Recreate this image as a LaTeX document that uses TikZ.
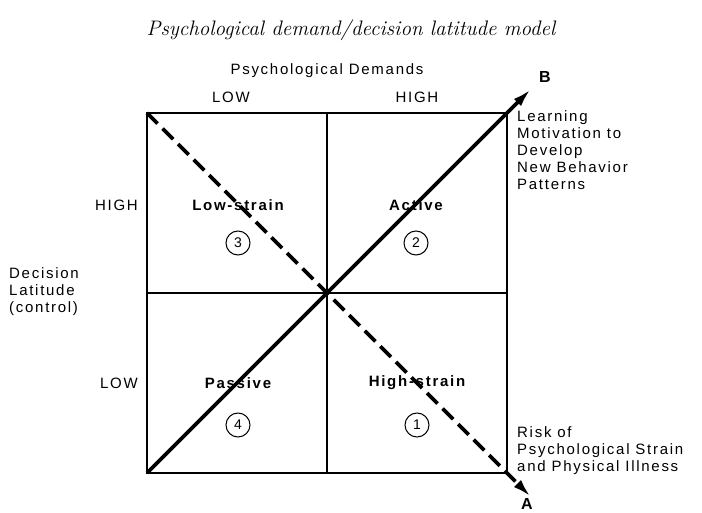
\documentclass[tikz,border=0pt]{standalone}
\usepackage{fontspec}
\usepackage{tikz}
\usetikzlibrary{arrows.meta}
\newfontfamily\lblfont[LetterSpace=11.5]{Liberation Sans}
\tikzset{
  lbl/.style={
    inner sep=0pt,
    font=\lblfont\fontsize{15}{17}\selectfont
  },
  sidelbl/.style={
    inner sep=0pt,
    align=left,
    font=\lblfont\fontsize{15}{17}\selectfont
  },
  quadlbl/.style={
    inner sep=0pt,
    font=\lblfont\bfseries\fontsize{15}{17}\selectfont
  },
  numcircle/.style={
    draw,
    circle,
    line width=1pt,
    minimum size=24pt,
    inner sep=0pt,
    font=\lblfont\fontsize{14}{16}\selectfont
  },
  tiplbl/.style={
    inner sep=0pt,
    font=\lblfont\bfseries\fontsize{16}{18}\selectfont
  },
  grid/.style={line width=1.6pt},
  diag/.style={line width=3.6pt, -{Latex[length=19pt,width=10pt]}},
  dashdiag/.style={diag, dash pattern=on 15pt off 7pt}
}
\begin{document}
\begin{tikzpicture}[x=1pt,y=-1pt]
  \useasboundingbox (0,0) rectangle (702,513);

  \coordinate (tl) at (147,113);
  \coordinate (tr) at (507,113);
  \coordinate (bl) at (147,473);
  \coordinate (br) at (507,473);
  \coordinate (tm) at (327,113);
  \coordinate (bm) at (327,473);
  \coordinate (ml) at (147,293);
  \coordinate (mr) at (507,293);
  \coordinate (btip) at (531,89);
  \coordinate (atip) at (531,497);

  \node[font=\itshape\fontsize{21}{23}\selectfont] (title) at (351,30) {Psychological demand/decision latitude model};
  \node[lbl] (demands) at (327,71) {Psychological Demands};
  \node[lbl] (demlow) at (231,97) {LOW};
  \node[lbl] (demhigh) at (417,97) {HIGH};

  \node[lbl, anchor=east] (dechigh) at (138,205) {HIGH};
  \node[lbl, anchor=east] (declow) at (138,383) {LOW};
  \node[sidelbl, anchor=west] (latitude) at (9,292) {Decision\\Latitude\\(control)};

  \node[quadlbl] (lowstrain) at (238,205) {Low-strain};
  \node[quadlbl] (active) at (416,205) {Active};
  \node[quadlbl] (passive) at (238,383) {Passive};
  \node[quadlbl] (highstrain) at (417,383) {High-strain};
  \node[numcircle] (n3) at (238,243) {3};
  \node[numcircle] (n2) at (416,243) {2};
  \node[numcircle] (n4) at (238,425) {4};
  \node[numcircle] (n1) at (417,425) {1};

  \node[sidelbl, anchor=north west] (learning) at (517,110) {Learning\\Motivation to\\Develop\\New Behavior\\Patterns};
  \node[sidelbl, anchor=south west] (risk) at (517,475) {Risk of\\Psychological Strain\\and Physical Illness};
  \node[tiplbl] (blbl) at (545,77) {B};
  \node[tiplbl] (albl) at (527,504) {A};

  \draw[grid] (tl) rectangle (br);
  \draw[grid] (tm) -- (bm);
  \draw[grid] (ml) -- (mr);

  \draw[diag] (bl) -- (btip);
  \draw[dashdiag] (tl) -- (atip);
\end{tikzpicture}
\end{document}
